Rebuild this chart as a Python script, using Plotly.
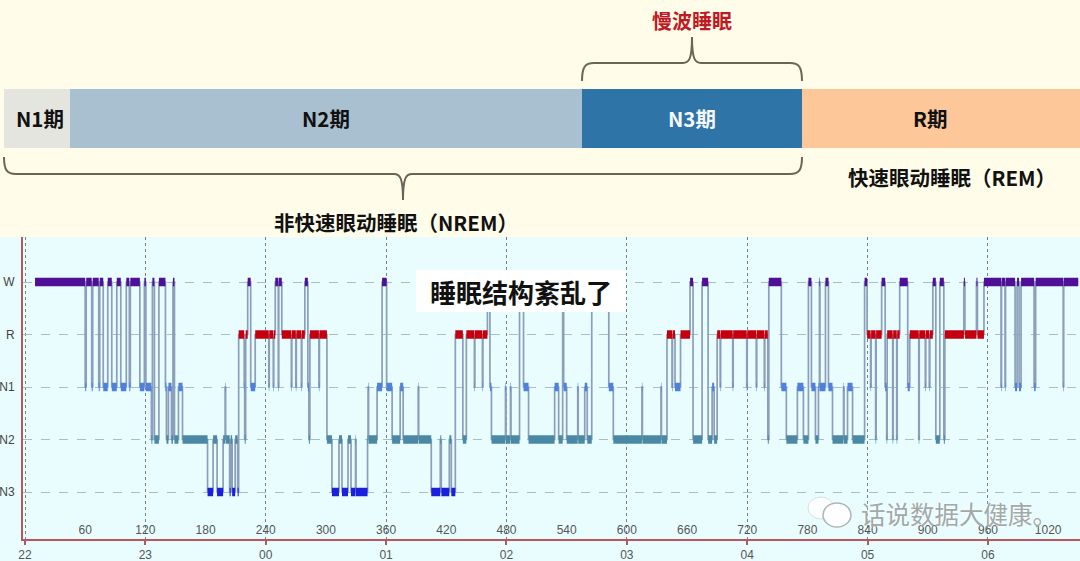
import plotly.graph_objects as go

# ---- data -----------------------------------------------------------------
stage_names = ["N3", "N2", "N1", "R", "W"]
stage_levels = [0, 1, 2, 3, 4]
stage_colors = ["#1B20DC", "#4A88A4", "#4E80DE", "#C4000F", "#4F0F96"]

change_minute = [
    10, 60, 61, 66.5, 67.5, 73.5, 74.5, 78, 82.5, 86.5, 91.5, 95.5, 101, 104, 105,
    114.5, 119, 120.5, 126, 127, 129, 133.5, 140, 141, 143, 146, 147.5, 149, 153, 157,
    182, 187.5, 191.5, 197.5, 199.5, 200, 204, 205, 206.5, 209.5, 212, 213, 218.5, 219, 220, 222,
    225, 229.5, 243, 243.5, 247.5, 248, 249.5, 252.5, 253, 256, 265.5, 266, 270, 270.5, 275.5, 276,
    279, 282, 283, 284, 293, 293.5, 301, 306, 313, 316, 322, 325, 329.5, 330, 341.5, 342, 342.5,
    351, 356, 360.5, 366, 374, 377, 392, 392.5, 405, 414, 415, 415.5, 423, 425, 429,
    436.5, 440, 448, 448.5, 456, 456.5, 461, 463.5, 465, 465.5, 479, 479.5, 484, 484.5, 493, 497, 502,
    528, 532, 536, 537, 540, 551, 551.5, 558, 560.5, 565, 582, 586.5, 615, 615.5, 634, 634.5,
    640, 645, 645.5, 648, 653.5, 663, 666, 675, 681, 685, 687, 690, 693, 693.5, 705.5, 706,
    719.5, 720, 729, 729.5, 737, 737.5, 740.5, 741.5, 754, 759, 770, 776, 781, 784, 788, 791,
    792, 792.5, 798, 801, 805, 816, 816.5, 820, 825, 837, 839.5, 843, 843.5, 848, 848.5, 854, 857.5,
    859, 859.5, 865, 865.5, 869, 869.5, 872, 880, 882, 891, 891.5, 897.5, 898, 901.5, 902, 905, 908, 912,
    916, 917, 936, 937, 938, 948.5, 949.5, 956, 973, 973.5, 977, 977.5, 987, 989, 991, 993,
    1006, 1007.5, 1035, 1035.5,
]
change_stage = [
    "W", "N1", "W", "N1", "W", "N1", "W", "N1", "W", "N1", "W", "N1", "W", "N1", "W",
    "N1", "W", "N1", "N2", "W", "N2", "W", "N1", "N2", "N1", "N2", "W", "N2", "N1", "N2",
    "N3", "N2", "N3", "N2", "N1", "N2", "N3", "N2", "N3", "N2", "N3", "R", "N1", "N2", "R", "W",
    "N1", "R", "N1", "R", "N1", "R", "W", "N1", "W", "R", "N1", "R", "N1", "R", "N1", "R",
    "W", "N1", "N2", "R", "N1", "R", "N2", "N3", "N2", "N3", "N2", "N3", "N2", "N3", "N2", "N1", "N2",
    "N1", "W", "N1", "N2", "N1", "N2", "N1", "N2", "N3", "N2", "N3", "N3", "N2", "N3", "R",
    "N2", "R", "N1", "R", "N1", "R", "W", "N1", "N2", "N2", "N1", "N2", "N1", "N2", "W", "N1", "N2",
    "N1", "N2", "W", "N1", "N2", "N1", "N2", "N1", "N2", "W", "N1", "N2", "N1", "N2", "N1", "N2",
    "R", "N1", "R", "N1", "R", "W", "N2", "W", "N2", "N1", "N2", "R", "N1", "R", "N1", "R",
    "N1", "R", "N1", "R", "N1", "R", "N2", "W", "N1", "N2", "N1", "N2", "W", "N1", "N2", "N1",
    "W", "N1", "W", "N1", "N2", "N1", "N2", "N1", "N2", "W", "R", "N1", "R", "N2", "R", "W", "N1",
    "N2", "R", "N2", "R", "N2", "R", "W", "N1", "R", "N2", "R", "N1", "R", "N1", "R", "W", "N2", "W",
    "N2", "R", "W", "R", "R", "W", "R", "W", "N1", "W", "N1", "W", "N1", "W", "N1", "W",
    "N1", "W", "N1", "W",
]
record_end_minute = 1050

hour_minutes = [0, 120, 240, 360, 480, 600, 720, 840, 960]
hour_labels = ["22", "23", "00", "01", "02", "03", "04", "05", "06"]
epoch_ticks = [60, 120, 180, 240, 300, 360, 420, 480, 540, 600, 660, 720, 780, 840, 900, 960, 1020]

phase_names = ["N1期", "N2期", "N3期", "R期"]
phase_widths = [66, 512, 220, 278]
phase_colors = ["#E5E5DF", "#A8C0D0", "#2E74A6", "#FDC79A"]
phase_text_colors = ["#111111", "#111111", "#F4F8FB", "#111111"]
phase_label_centers = [40, 326, 692, 930]

# ---- figure geometry -------------------------------------------------------
W, H = 1080, 561
PANEL_TOP, AXIS_Y, AXIS_X = 237, 539, 23
CJK = "Noto Sans CJK SC"
level_of = dict(zip(stage_names, stage_levels))

fig = go.Figure()

# top band
left = 4
bases = [left + sum(phase_widths[:i]) for i in range(len(phase_widths))]
fig.add_trace(go.Bar(
    y=[118.5] * 4, x=phase_widths, base=bases, orientation="h", width=59,
    marker=dict(color=phase_colors, line=dict(width=0)),
    xaxis="x2", yaxis="y2", showlegend=False, hoverinfo="skip",
))

# hypnogram
ends = change_minute[1:] + [record_end_minute]
levels = [level_of[s] for s in change_stage]
thin_x, thin_y = [], []
for a, b, lv in zip(change_minute, ends, levels):
    thin_x += [a, b]
    thin_y += [lv, lv]
fig.add_trace(go.Scatter(x=thin_x, y=thin_y, mode="lines",
                         line=dict(color="#8B9FBA", width=1.7),
                         showlegend=False, hoverinfo="skip"))
for name, color in zip(stage_names, stage_colors):
    xs, ys = [], []
    for a, b, s in zip(change_minute, ends, change_stage):
        if s == name:
            xs += [a, b, None]
            ys += [level_of[s], level_of[s], None]
    fig.add_trace(go.Scatter(x=xs, y=ys, mode="lines", name=name,
                             line=dict(color=color, width=8.5),
                             showlegend=False, hoverinfo="skip"))

# second axis only for the epoch numbers inside the plot
fig.add_trace(go.Scatter(x=[epoch_ticks[0]], y=[0], xaxis="x3", mode="none",
                         showlegend=False, hoverinfo="skip"))

t_per_px = 1 / 1.0031
x_range = [(AXIS_X - 25) * t_per_px, (W - 25) * t_per_px]
y_unit = 52.5
y_range = [-(AXIS_Y - 492) / y_unit, 4 + (282 - PANEL_TOP) / y_unit]
x_dom = [AXIS_X / W, 1]
y_dom = [(H - AXIS_Y) / H, (H - PANEL_TOP) / H]
RED = "#B9575C"


def brace(x0, x1, xm, y_end, y_bar, y_tip):
    s = 1 if y_bar > y_end else -1
    t = 1 if y_tip > y_bar else -1
    return (f"M {x0} {y_end} C {x0} {y_bar - s * 4} {x0 + 3} {y_bar} {x0 + 12} {y_bar} "
            f"L {xm - 9} {y_bar} C {xm - 3} {y_bar} {xm} {y_bar + t * 4} {xm} {y_tip} "
            f"C {xm} {y_bar + t * 4} {xm + 3} {y_bar} {xm + 9} {y_bar} "
            f"L {x1 - 12} {y_bar} C {x1 - 3} {y_bar} {x1} {y_bar - s * 4} {x1} {y_end}")


pix = dict(xref="x2", yref="y2")
shapes = [
    dict(type="rect", xref="paper", yref="paper", x0=0, x1=1, y0=0, y1=(H - PANEL_TOP) / H,
         fillcolor="#E9FDFF", line_width=0, layer="below"),
    dict(type="path", path=brace(4, 802, 403, 157, 174, 200), line=dict(color="#6B6457", width=2), **pix),
    dict(type="path", path=brace(582, 802, 692, 81, 63, 37), line=dict(color="#6B6457", width=2), **pix),
    dict(type="rect", x0=416, x1=626, y0=270, y1=312, fillcolor="#FFFFFF", line_width=0, **pix),
    dict(type="circle", x0=808, x1=834, y0=497, y1=519, fillcolor="#FFFFFF",
         line=dict(color="#D4DCDC", width=1), opacity=0.85, **pix),
    dict(type="circle", x0=823, x1=851, y0=503, y1=527, fillcolor="#FFFFFF",
         line=dict(color="#A6AEAE", width=1.5), opacity=0.9, **pix),
]


def label(x, y, text, size, color="#111111", bold=True, **kw):
    return dict(x=x, y=y, text=text, xref="x2", yref="y2", showarrow=False,
                xanchor="center", yanchor="middle",
                font=dict(family=CJK, size=size, color=color, weight="bold" if bold else "normal", **kw))


annotations = [label(cx, 118, n, 20.5, c) for cx, n, c in
               zip(phase_label_centers, phase_names, phase_text_colors)] + [
    label(692, 20, "慢波睡眠", 20, "#BE1A24"),
    label(952, 177, "快速眼动睡眠（REM）", 20.5),
    label(396, 222, "非快速眼动睡眠（NREM）", 20.5),
    label(521, 291, "睡眠结构紊乱了", 26),
    label(959, 513, "话说数据大健康。", 24.5, "#A2A9A9", False, shadow="0 0 3px #FFFFFF"),
]

fig.update_layout(
    template="none",
    width=W, height=H, margin=dict(l=0, r=0, t=0, b=0, autoexpand=False),
    paper_bgcolor="#FFFCEA", plot_bgcolor="rgba(0,0,0,0)",
    bargap=0, showlegend=False, hovermode=False,
    shapes=shapes, annotations=annotations,
    xaxis=dict(domain=x_dom, range=x_range, anchor="y", automargin=False, tickmode="array",
               tickvals=hour_minutes, ticktext=hour_labels, ticks="outside", ticklen=4,
               tickwidth=2, tickcolor=RED, showline=True, linecolor=RED, linewidth=2,
               showgrid=True, gridcolor="#708490", griddash="dot", gridwidth=1.4, zeroline=False,
               tickfont=dict(family="Liberation Sans", size=12, color="#555555")),
    xaxis3=dict(overlaying="x", matches="x", anchor="y", side="bottom", automargin=False, tickmode="array",
                tickvals=epoch_ticks, ticklabelposition="inside", ticks="", showgrid=False,
                showline=False, zeroline=False,
                tickfont=dict(family="Liberation Sans", size=12, color="#555555")),
    yaxis=dict(domain=y_dom, range=y_range, anchor="x", automargin=False, tickmode="array",
               tickvals=stage_levels, ticktext=stage_names, ticks="", showline=True,
               linecolor=RED, linewidth=2, showgrid=True, gridcolor="#A9BFC6",
               griddash="dash", gridwidth=1, zeroline=False, ticklabelstandoff=4,
               tickfont=dict(family="Liberation Sans", size=12, color="#444444")),
    xaxis2=dict(domain=[0, 1], range=[0, W], anchor="y2", visible=False, fixedrange=True, automargin=False),
    yaxis2=dict(domain=[0, 1], range=[H, 0], anchor="x2", visible=False, fixedrange=True, automargin=False),
)

fig.write_html("out.html", config=dict(displayModeBar=False), post_script=(
    "document.documentElement.style.margin='0';document.body.style.margin='0';"
    "document.documentElement.style.overflow='hidden';document.body.style.overflow='hidden';"
    "var gd=document.getElementById('{plot_id}');Plotly.Plots.resize(gd);"))
